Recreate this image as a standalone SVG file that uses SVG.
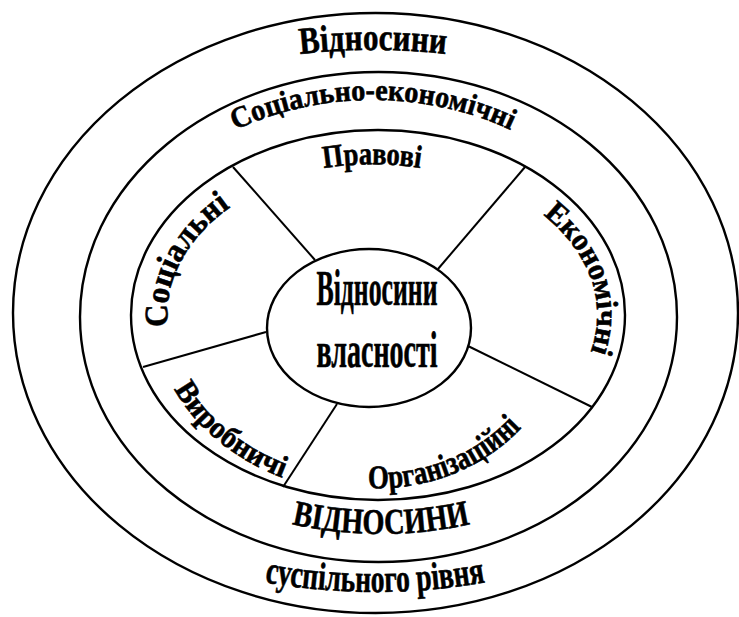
<svg xmlns="http://www.w3.org/2000/svg" width="739" height="617" viewBox="0 0 739 617">
<style>
.ring{fill:none;stroke:#000;stroke-width:2.4}
.spoke{fill:none;stroke:#000;stroke-width:2}
.t{font-family:"Liberation Serif","Times New Roman",serif;font-weight:bold;fill:#000;stroke:#000;stroke-width:0.6}
</style>
<defs>
<path id="p-top" d="M9.3,181.5 A420,263 0 0 1 736.7,181.5"/>
<path id="p-se" d="M119.3,241.5 A270,215 0 0 1 626.7,241.5"/>
<path id="p-prav" d="M170,264.3 A215,152 0 0 1 574,264.3"/>
<path id="p-soc" d="M168,327 A211,151 0 0 1 305.8,173.1"/>
<path id="p-ek" d="M543,215 A219,152 0 0 1 545.8,412.7"/>
<path id="p-vyr" d="M174,389 A224,180 0 0 0 378,495"/>
<path id="p-org" d="M368,488 A189,173 0 0 0 555.6,374.2"/>
<path id="p-vidn" d="M99.1,391.2 A300,217 0 0 0 662.9,391.2"/>
<path id="p-susp" d="M-19.7,408.4 A420,279 0 0 0 769.7,408.4"/>
</defs>
<rect width="739" height="617" fill="#fff"/>

<g id="ring-outer">
<ellipse class="ring" cx="375.5" cy="313" rx="362.5" ry="300"/>
<text class="t" font-size="38"><textPath href="#p-top" startOffset="50%" text-anchor="middle" textLength="146" lengthAdjust="spacingAndGlyphs">Відносини</textPath></text>
<text class="t" font-size="39"><textPath href="#p-susp" startOffset="50%" text-anchor="middle" textLength="222" lengthAdjust="spacingAndGlyphs">суспільного рівня</textPath></text>
</g>

<g id="ring-middle">
<ellipse class="ring" cx="378.5" cy="317" rx="298.5" ry="245"/>
<text class="t" font-size="30"><textPath href="#p-se" startOffset="50%" text-anchor="middle" textLength="284" lengthAdjust="spacingAndGlyphs">Соціально-економічні</textPath></text>
<text class="t" font-size="36"><textPath href="#p-vidn" startOffset="50%" text-anchor="middle" textLength="180" lengthAdjust="spacingAndGlyphs">ВІДНОСИНИ</textPath></text>
</g>

<g id="ring-inner">
<ellipse class="ring" cx="378" cy="315" rx="247" ry="185"/>
</g>

<g id="sector-pravovi">
<text class="t" font-size="32"><textPath href="#p-prav" startOffset="50%" text-anchor="middle" textLength="97" lengthAdjust="spacingAndGlyphs">Правові</textPath></text>
</g>
<g id="sector-ekonomichni">
<text class="t" font-size="31"><textPath href="#p-ek" textLength="155" lengthAdjust="spacingAndGlyphs">Економічні</textPath></text>
</g>
<g id="sector-orhanizatsiini">
<text class="t" font-size="33"><textPath href="#p-org" textLength="170" lengthAdjust="spacingAndGlyphs">Організаційні</textPath></text>
</g>
<g id="sector-vyrobnychi">
<text class="t" font-size="31"><textPath href="#p-vyr" textLength="143" lengthAdjust="spacingAndGlyphs">Виробничі</textPath></text>
</g>
<g id="sector-sotsialni">
<text class="t" font-size="33"><textPath href="#p-soc" textLength="142" lengthAdjust="spacingAndGlyphs">Соціальні</textPath></text>
</g>

<g id="center">
<ellipse class="ring" cx="369" cy="328" rx="102" ry="79" stroke-width="2"/>
<text class="t" font-size="50" x="377" y="305" text-anchor="middle" textLength="121" lengthAdjust="spacingAndGlyphs">Відносини</text>
<text class="t" font-size="50" x="377" y="367" text-anchor="middle" textLength="121" lengthAdjust="spacingAndGlyphs">власності</text>
</g>

<g id="connectors">
<line class="spoke" x1="233" y1="167" x2="315" y2="260"/>
<line class="spoke" x1="525" y1="167" x2="438" y2="269"/>
<line class="spoke" x1="143" y1="367" x2="266" y2="332"/>
<line class="spoke" x1="592" y1="407" x2="468" y2="346"/>
<line class="spoke" x1="283" y1="487" x2="337" y2="404"/>
</g>
</svg>
